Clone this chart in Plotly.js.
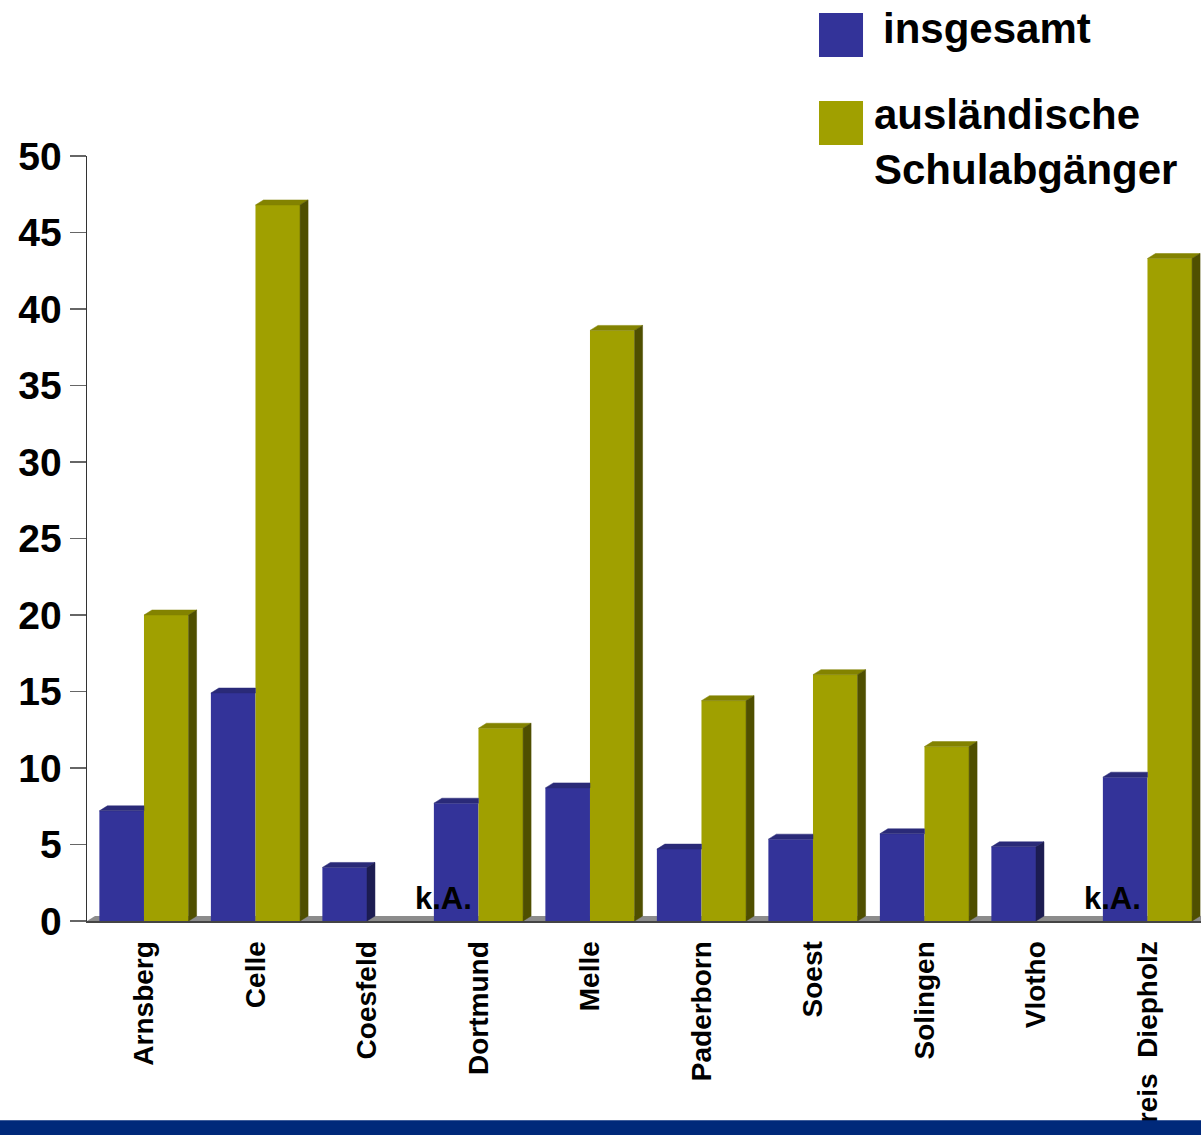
<!DOCTYPE html>
<html>
<head>
<meta charset="utf-8">
<script src="https://cdn.plot.ly/plotly-3.0.1.min.js"></script>
<style>html,body{margin:0;padding:0;background:#fff;} #chart{width:1201px;height:1135px;}</style>
</head>
<body>
<div id="chart"></div>
<script>
// ---- data ----
const categories = ['Arnsberg', 'Celle', 'Coesfeld', 'Dortmund', 'Melle', 'Paderborn', 'Soest', 'Solingen', 'Vlotho', 'Kreis Diepholz'];
const insgesamt = [7.2, 14.9, 3.5, 7.7, 8.7, 4.7, 5.35, 5.7, 4.85, 9.4];
const auslaendische = [20.0, 46.8, null, 12.6, 38.6, 14.4, 16.1, 11.4, null, 43.3];
const seriesNames = ['insgesamt', 'ausländische<br>Schulabgänger'];
const missingLabel = 'k.A.';
const yTickVals = [0, 5, 10, 15, 20, 25, 30, 35, 40, 45, 50];

// ---- style ----
const FONT = 'Liberation Sans, Arial, Helvetica, sans-serif';
const C = {
  insFront: '#333399', insTop: '#2a2a78', insSide: '#1c1c52',
  ausFront: '#a0a000', ausTop: '#838300', ausSide: '#4f4f00'
};
const BW = 0.4;          // bar width (category units)
const DX = 8 / 111.5;    // depth offset x (category units)
const DY = 5 / 15.31;    // depth offset y (value units)
const XR = [-0.511, 9.48];

const idx = categories.map((_, i) => i);
const traces = [];

traces.push({
  type: 'bar', x: idx, y: insgesamt, width: BW, offset: -BW,
  marker: { color: C.insFront, line: { width: 0 } }, name: 'insgesamt',
  hoverinfo: 'skip', showlegend: false
});
traces.push({
  type: 'bar', x: idx, y: auslaendische, width: BW, offset: 0,
  marker: { color: C.ausFront, line: { width: 0 } }, name: 'ausl',
  hoverinfo: 'skip', showlegend: false
});

function poly(xs, ys, color) {
  traces.push({
    type: 'scatter', mode: 'lines', x: xs.concat([xs[0]]), y: ys.concat([ys[0]]),
    fill: 'toself', fillcolor: color, line: { width: 0.5, color: color },
    hoverinfo: 'skip', showlegend: false
  });
}

idx.forEach(i => {
  const v = insgesamt[i];
  const a = auslaendische[i];
  if (a !== null && a !== undefined) {
    poly([i - BW, i - BW + DX, i, i], [v, v + DY, v + DY, v], C.insTop);
    poly([i, i + DX, i + BW + DX, i + BW], [a, a + DY, a + DY, a], C.ausTop);
    poly([i + BW, i + BW + DX, i + BW + DX, i + BW], [0, DY, a + DY, a], C.ausSide);
  } else {
    poly([i - BW, i - BW + DX, i + DX, i], [v, v + DY, v + DY, v], C.insTop);
    poly([i, i + DX, i + DX, i], [0, DY, v + DY, v], C.insSide);
  }
});

const annotations = [];
idx.forEach(i => {
  if (auslaendische[i] === null) {
    annotations.push({
      x: i + 0.69, y: 1.45, xref: 'x', yref: 'y', text: missingLabel, showarrow: false,
      xanchor: 'center', yanchor: 'middle',
      font: { family: FONT, size: 31, color: '#000', weight: 'bold' }
    });
  }
});

// legend (drawn manually)
const legendText = [
  { text: seriesNames[0], x: 0.7127, y: 1.1662 },
  { text: seriesNames[1], x: 0.7046, y: 1.0182 }
];
legendText.forEach(l => annotations.push({
  x: l.x, y: l.y, xref: 'paper', yref: 'paper', text: l.text, showarrow: false,
  xanchor: 'left', yanchor: 'middle', align: 'left',
  font: { family: FONT, size: 42, color: '#000', weight: 'bold' }
}));

const shapes = [
  // floor
  { type: 'path', xref: 'x', yref: 'y', layer: 'below',
    path: `M ${XR[0]} 0 L ${XR[0] + DX} ${DY} L ${XR[1]} ${DY} L ${XR[1]} 0 Z`,
    fillcolor: '#8c8c8c', line: { width: 0 } },
  // legend swatches
  { type: 'rect', xref: 'paper', yref: 'paper', x0: 0.6571, x1: 0.6966, y0: 1.1293, y1: 1.1868,
    fillcolor: C.insFront, line: { width: 0 } },
  { type: 'rect', xref: 'paper', yref: 'paper', x0: 0.6571, x1: 0.6966, y0: 1.0143, y1: 1.0718,
    fillcolor: C.ausFront, line: { width: 0 } },
  // bottom band
  { type: 'rect', xref: 'paper', yref: 'paper', x0: -0.1, x1: 1.1, y0: -0.29, y1: -0.2606,
    fillcolor: '#00297a', line: { width: 0 }, layer: 'above' }
];

const layout = {
  width: 1201, height: 1135,
  margin: { l: 87, r: 0, t: 156, b: 213.5, pad: 0 },
  paper_bgcolor: '#ffffff', plot_bgcolor: 'rgba(0,0,0,0)',
  barmode: 'overlay', showlegend: false, hovermode: false,
  font: { family: FONT, color: '#000' },
  xaxis: {
    range: XR, tickvals: idx,
    ticktext: categories.map(c => c.replace(' ', '\u00A0\u00A0')),
    tickangle: -90, ticks: '', showgrid: false, zeroline: false,
    showline: true, linecolor: '#444', linewidth: 2,
    tickfont: { family: FONT, size: 28, color: '#000', weight: 'bold' },
    ticklabelstandoff: 7
  },
  yaxis: {
    range: [0, 50], tickvals: yTickVals, ticktext: yTickVals.map(String),
    ticks: 'outside', ticklen: 16, tickwidth: 1.5, tickcolor: '#666',
    showline: true, linecolor: '#333', linewidth: 1.5,
    showgrid: false, zeroline: false,
    tickfont: { family: FONT, size: 39, color: '#000', weight: 'bold' }
  },
  shapes: shapes,
  annotations: annotations
};

Plotly.newPlot('chart', traces, layout, { displayModeBar: false, staticPlot: true });
</script>
</body>
</html>
